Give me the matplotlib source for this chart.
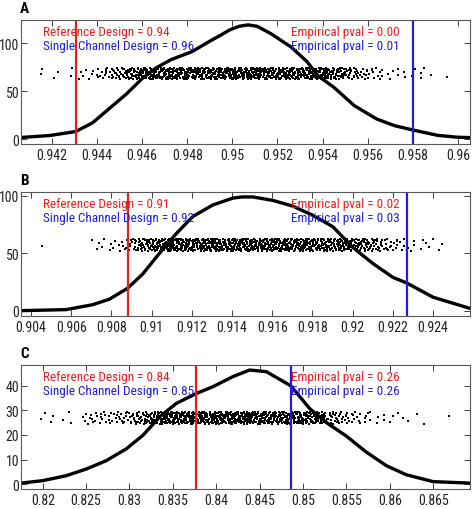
import matplotlib

matplotlib.use("Agg")
import matplotlib.pyplot as plt
from matplotlib import font_manager

fonts = font_manager.fontManager.ttflist
installed = {f.name for f in fonts}
narrow = [f.name for f in fonts
          if ("Narrow" in f.name or "Condensed" in f.name
              or f.stretch in ("condensed", "semi-condensed"))
          and f.weight in (400, "normal", "regular")]
family = "Liberation Sans"
for name in ["Liberation Sans Narrow", "Roboto Condensed", "Open Sans Condensed",
             "Noto Sans Condensed"] + sorted(set(narrow)):
    if name in installed:
        family = name
        break
plt.rcParams["font.family"] = [family, "DejaVu Sans"]

RED = "#e3201e"
BLUE = "#1f1fd6"

# density curves
curve_a_x = [0.94063, 0.9419, 0.94306, 0.9438, 0.9445, 0.9453, 0.9460, 0.9466, 0.9473,
             0.9482, 0.9490, 0.9495, 0.9499, 0.9503, 0.9507, 0.9511, 0.9517, 0.9526,
             0.9533, 0.9538, 0.9545, 0.9554, 0.9564, 0.9572, 0.9580, 0.9591, 0.9600,
             0.96053]
curve_a_y = [1.8, 3.8, 8.0, 17, 31, 47, 63, 74, 83, 91, 102, 108.5, 114, 117.5, 119,
             117.5, 110, 96, 81, 66, 54, 35, 21, 14, 9.6, 4, 2, 1.7]

curve_b_x = [0.9035, 0.90574, 0.90707, 0.9079, 0.90881, 0.90956, 0.91039, 0.91122,
             0.91205, 0.91304, 0.91404, 0.9145, 0.91503, 0.91603, 0.91702, 0.91802,
             0.91902, 0.92001, 0.92101, 0.922, 0.9227, 0.924, 0.92583]
curve_b_y = [0, 0.9, 5.2, 10, 19.6, 32, 50, 67, 82, 92, 98, 99, 99, 96, 91, 83, 73,
             55, 41, 29, 24, 11.7, 2]

curve_c_x = [0.8175, 0.82, 0.8227, 0.825, 0.82731, 0.82962, 0.83154, 0.83347, 0.83539,
             0.83762, 0.83961, 0.84192, 0.84385, 0.84578, 0.84858, 0.85077, 0.8527,
             0.8550, 0.8573, 0.8596, 0.8619, 0.865, 0.86923]
curve_c_y = [0.4, 1.4, 3.4, 6.1, 9.5, 14.3, 19.8, 27.3, 32.8, 36.7, 39.6, 43.7, 46.4,
             45.7, 40, 30.7, 25, 19.5, 13, 7.5, 3.8, 1.0, 0.4]

# strip of samples: number of dots per x bin (bin start, bin width)
counts_a = [1, 1, 0, 0, 0, 1, 0, 0, 1, 0, 0, 0, 0, 1, 0, 1, 0, 2, 0, 1,
            1, 0, 2, 1, 0, 2, 1, 2, 2, 3, 2, 3, 3, 4, 3, 4, 4, 5, 4, 5, 6,
            6, 7, 6, 7, 7, 8, 7, 7, 8, 7, 8, 8, 7, 8, 9, 8, 8, 7, 8, 9,
            8, 9, 8, 8, 9, 9, 8, 9, 8, 9, 9, 8, 9, 9, 8, 9, 9, 8, 9, 9,
            8, 9, 9, 9, 8, 9, 8, 9, 9, 8, 9, 9, 8, 9, 8, 9, 9, 8, 9, 8,
            8, 9, 8, 9, 8, 8, 9, 8, 8, 9, 8, 8, 7, 8, 8, 7, 8, 8, 7, 8,
            7, 7, 8, 7, 7, 6, 7, 7, 6, 7, 6, 7, 6, 6, 5,
            5, 4, 4, 3, 4, 3, 3, 2, 3, 2, 2, 2, 1, 2, 1, 2, 1, 1, 0, 1,
            1, 0, 1, 1, 0, 1, 1, 0, 1, 0, 1, 0, 1, 1, 1, 0, 1, 0, 0, 0,
            0, 0, 0, 0, 0, 1]
counts_b = [1] + [0] * 25 + [
            1, 1, 0, 1, 1, 0, 1, 0, 2, 0, 1, 1, 1, 0, 2, 1, 2, 2, 3, 2,
            3, 3, 4, 4, 5,
            5, 6, 5, 6, 6, 7, 6, 7, 7, 6, 7, 7, 8, 7, 7, 8, 7, 8, 8, 7,
            8, 8, 7, 8, 8, 8, 7, 8, 8, 8, 8, 7, 8, 8, 8, 8, 7, 8, 8, 8,
            8, 8, 7, 8, 8, 8, 8, 7, 8, 8, 8, 8, 8, 7, 8, 8, 8, 8, 7, 8,
            8, 8, 7, 8, 8, 8, 7, 8, 8, 7, 8, 8, 7, 8, 7, 8, 8, 7, 8, 7,
            7, 8, 7, 7, 8, 7, 7, 7, 6, 7, 7, 6, 7, 6, 7, 6, 6, 7, 6, 6,
            6, 5, 6, 6, 5, 5, 6, 5, 5, 5, 5, 4, 5, 4, 5,
            4, 4, 3, 3, 3, 2, 3, 2, 2, 2, 1, 2, 1, 2, 1, 1, 2, 1, 0, 1,
            1, 0, 1, 0, 1, 1, 0, 0, 1, 1, 0, 1, 0, 0, 1]
counts_c = [1, 0, 0, 1, 1, 0, 1, 0, 0, 0, 1, 0, 0, 0, 2, 0, 0, 0, 0, 1,
            0, 2, 1, 2, 1, 2, 2, 1, 2, 2, 1, 2, 2, 2, 1, 2, 3, 2, 3, 2,
            3, 3, 4, 3, 4, 4, 5, 4, 5, 5, 5, 6, 6, 6, 7, 7,
            8, 8, 9, 8, 9, 9, 9, 10, 9, 10, 10, 9, 10, 10, 9, 10, 10, 10, 9, 10,
            10, 10, 9, 10, 10, 10, 10, 9, 10, 10, 10, 9, 10, 10, 10, 9, 10, 10, 9, 10,
            10, 9, 10, 9, 10, 9, 9, 10, 9, 9, 9, 9, 8, 9, 9, 8, 9, 8, 8, 9,
            8, 8, 7, 8, 7, 7, 8, 7, 7, 6, 7,
            6, 6, 5, 5, 5, 4, 4, 4, 3, 4, 3, 3, 3, 2, 3, 2, 2, 2, 2, 1,
            2, 1, 1, 2, 1, 1, 1, 0, 1, 1, 0, 1, 1, 0, 1, 0, 1, 1, 0, 0,
            1, 0, 0, 1, 0, 0, 1, 0, 0, 0, 1, 0, 0, 0, 0, 0, 0, 0, 0, 0,
            0, 1]

# position of each dot inside the strip (0 = bottom, 1 = top)
jitter = [0.42, 0.87, 0.13, 0.66, 0.31, 0.95, 0.05, 0.58, 0.24, 0.79, 0.47, 0.02,
          0.71, 0.36, 0.90, 0.18, 0.62, 0.27, 0.84, 0.09, 0.53, 0.98, 0.40, 0.15,
          0.74, 0.33, 0.61, 0.07, 0.88, 0.22, 0.50, 0.81, 0.11, 0.69, 0.38, 0.93,
          0.26, 0.56, 0.03, 0.77, 0.45, 0.19, 0.85, 0.64, 0.29, 0.97, 0.08, 0.52,
          0.35, 0.72, 0.16, 0.60, 0.91, 0.44, 0.21, 0.83, 0.01, 0.67, 0.39, 0.12, 0.76]
# offset of each dot inside its x bin, in bin widths
shift = [0.3, -0.6, 0.9, -0.2, 0.5, -0.9, 0.1, 0.7, -0.4, 0.0, 0.8, -0.7, 0.4,
         -0.1, 0.6, -0.5, 0.2, -0.8, 0.9, -0.3, 0.05, 0.55, -0.65, 0.35, -0.95,
         0.75, -0.15, 0.45, -0.45, 0.15, 0.85, -0.75, 0.25, -0.35, 0.65, -0.05,
         0.95, -0.55, 0.1, -0.85, 0.5, -0.25, 0.7, -0.6, 0.3, -0.1, 0.8]

panels = [
    dict(label="A", cx=curve_a_x, cy=curve_a_y, counts=counts_a, x0=0.9415, step=1e-4,
         band=(62.5, 74.5), xlim=(0.94063, 0.96053), ylim=(-5, 124),
         xticks=[0.942, 0.944, 0.946, 0.948, 0.95, 0.952, 0.954, 0.956, 0.958, 0.96],
         yticks=[0, 50, 100], ref=0.94306, single=0.95799,
         texts=("0.94", "0.96", "0.00", "0.01"), bottom=0.7157),
    dict(label="B", cx=curve_b_x, cy=curve_b_y, counts=counts_b, x0=0.9045, step=1e-4,
         band=(52, 63), xlim=(0.9035, 0.92583), ylim=(-4.4, 103.5),
         xticks=[0.904, 0.906, 0.908, 0.91, 0.912, 0.914, 0.916, 0.918, 0.92, 0.922, 0.924],
         yticks=[0, 50, 100], ref=0.90881, single=0.9227,
         texts=("0.91", "0.92", "0.02", "0.03"), bottom=0.379),
    dict(label="C", cx=curve_c_x, cy=curve_c_y, counts=counts_c, x0=0.8197, step=2.5e-4,
         band=(24.5, 29.5), xlim=(0.8175, 0.86923), ylim=(-2, 48.4),
         xticks=[0.82, 0.825, 0.83, 0.835, 0.84, 0.845, 0.85, 0.855, 0.86, 0.865],
         yticks=[0, 10, 20, 30, 40], ref=0.83762, single=0.84858,
         texts=("0.84", "0.85", "0.26", "0.26"), bottom=0.0392),
]

narrow_font = family != "Liberation Sans"
text_size = 9.5 if narrow_font else 7.6
tick_size = 10 if narrow_font else 8.3

fig = plt.figure(figsize=(4.74, 5.10), dpi=100)
for p in panels:
    ax = fig.add_axes([0.0443, p["bottom"], 0.947, 0.243])
    xs, ys = [], []
    k = 0
    lo, hi = p["band"]
    for i, c in enumerate(p["counts"]):
        for _ in range(c):
            xs.append(p["x0"] + (i + shift[k % len(shift)]) * p["step"])
            ys.append(lo + jitter[k % len(jitter)] * (hi - lo))
            k += 1
    ax.plot(xs, ys, linestyle="none", marker="s", markersize=1.45,
            markeredgewidth=0, color="black")
    ax.plot(p["cx"], p["cy"], color="black", linewidth=2.4, solid_joinstyle="round",
            solid_capstyle="round")
    ax.axvline(p["ref"], color=RED, linewidth=1.6)
    ax.axvline(p["single"], color=BLUE, linewidth=1.6)

    ref_t, single_t, pv_ref, pv_single = p["texts"]
    ax.text(0.05, 0.905, f"Reference Design = {ref_t}", color=RED, fontsize=text_size,
            transform=ax.transAxes, va="center")
    ax.text(0.05, 0.792, f"Single Channel Design = {single_t}", color=BLUE,
            fontsize=text_size, transform=ax.transAxes, va="center")
    ax.text(0.601, 0.905, f"Empirical pval = {pv_ref}", color=RED, fontsize=text_size,
            transform=ax.transAxes, va="center")
    ax.text(0.601, 0.792, f"Empirical pval = {pv_single}", color=BLUE,
            fontsize=text_size, transform=ax.transAxes, va="center")

    ax.set_xlim(*p["xlim"])
    ax.set_ylim(*p["ylim"])
    ax.set_xticks(p["xticks"])
    ax.set_xticklabels([f"{t:g}" for t in p["xticks"]])
    ax.set_yticks(p["yticks"])
    ax.tick_params(direction="in", length=4, width=0.7, labelsize=tick_size,
                   colors="0.25", top=True, right=True)
    ax.tick_params(axis="y", pad=1.2)
    ax.tick_params(axis="x", pad=3)
    for tl in ax.get_xticklabels() + ax.get_yticklabels():
        tl.set_color("#222222")
    for s in ax.spines.values():
        s.set_linewidth(0.8)
        s.set_color("0.35")
    ax.text(-0.002, 1.04, p["label"], transform=ax.transAxes, fontsize=11,
            fontweight="bold", va="bottom", ha="left")

fig.savefig("out.png", dpi=100)
